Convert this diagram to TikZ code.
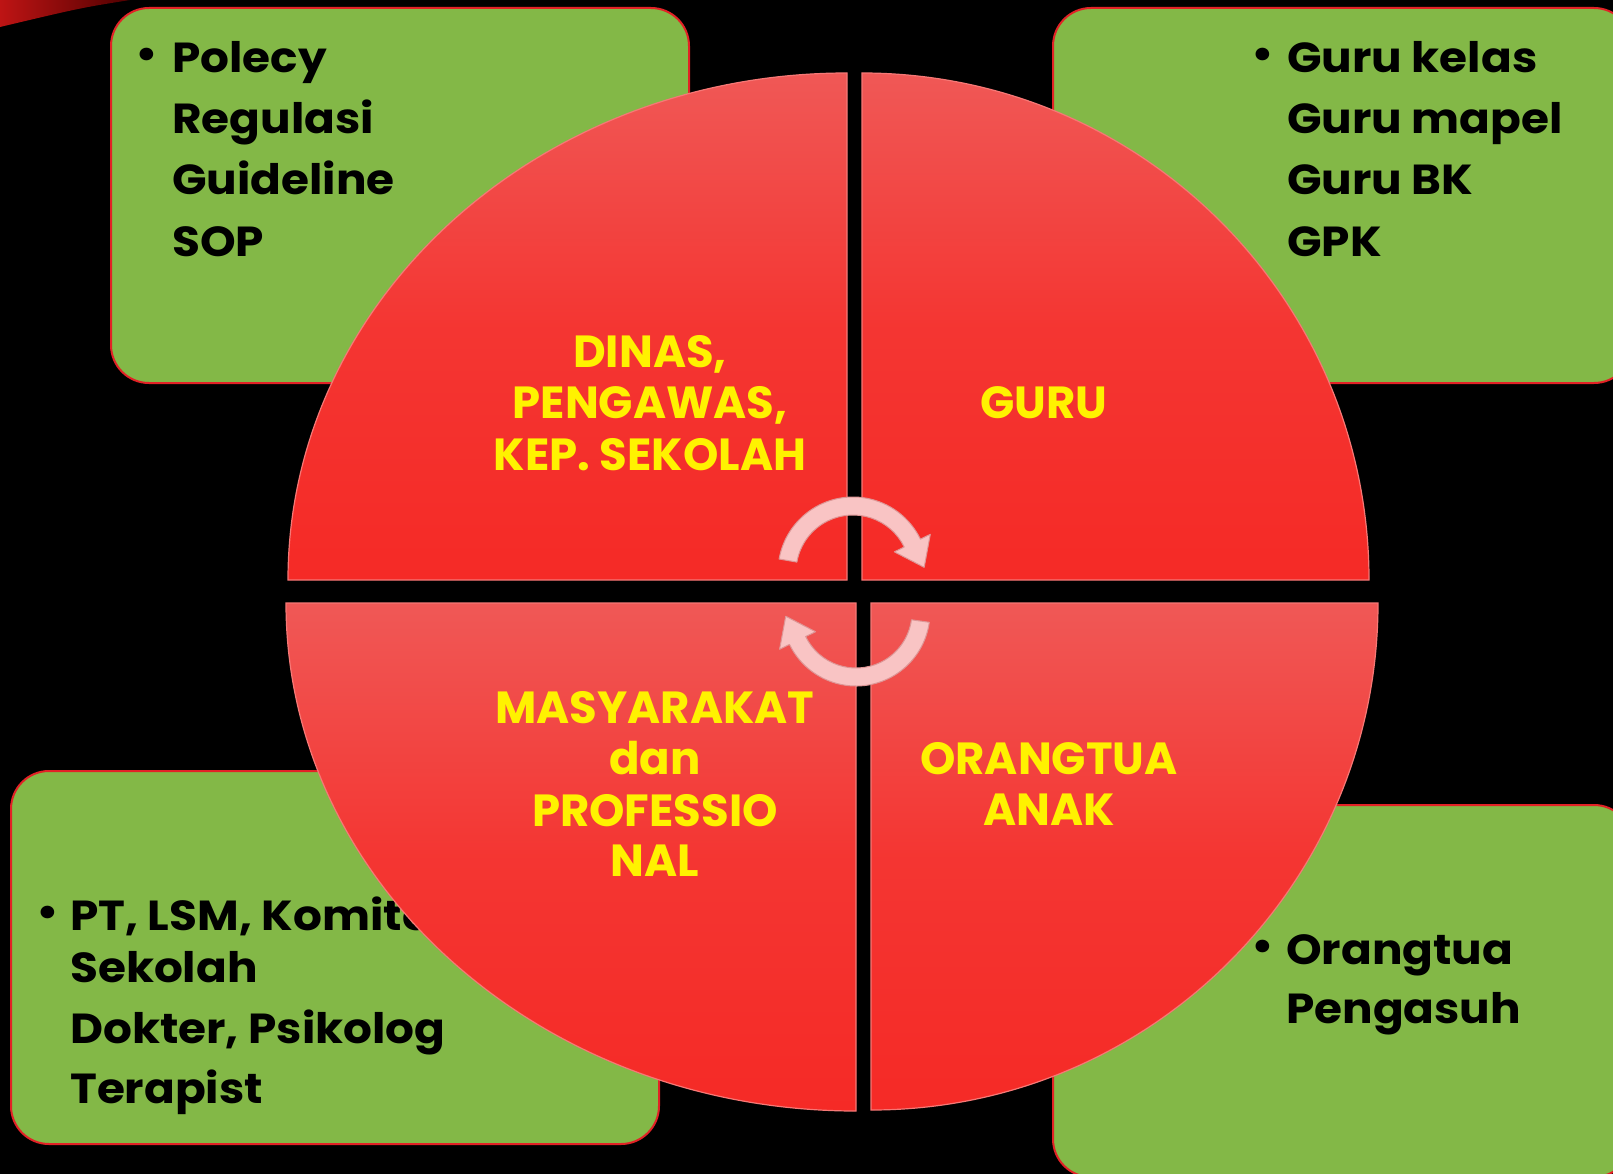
\documentclass[tikz,border=0pt]{standalone}
\usepackage{fontspec}
\setmainfont{Poppins}[FakeStretch=1.08]
\newfontfamily\quadfont{Poppins}
\usetikzlibrary{calc}
\definecolor{boxgreen}{RGB}{131,184,71}
\definecolor{boxline}{RGB}{226,34,38}
\definecolor{qlight}{RGB}{240,88,86}
\definecolor{qred}{RGB}{245,42,38}
\definecolor{qedge}{RGB}{246,120,118}
\definecolor{arrowpink}{RGB}{249,196,196}
\definecolor{arrowedge}{RGB}{222,150,150}
\definecolor{darkred}{RGB}{80,0,0}
\definecolor{streakred}{RGB}{190,20,20}
\begin{document}
\begin{tikzpicture}[x=1pt,y=-1pt,
  greenbox/.style={fill=boxgreen, draw=boxline, line width=2pt, rounded corners=38pt},
  quad/.style={top color=qlight, bottom color=qred, middle color=qred!75!qlight, draw=qedge, line width=1.2pt},
  itemtxt/.style={anchor=base west, inner sep=0pt, font=\fontsize{42}{50}\selectfont\bfseries, text=black},
  bul/.style={anchor=base, inner sep=0pt, font=\fontsize{42}{50}\selectfont\bfseries, text=black},
  qtxt/.style={anchor=base, inner sep=0pt, font=\quadfont\fontsize{45}{51}\selectfont\bfseries, text=yellow},
  arrowstyle/.style={fill=arrowpink, draw=arrowedge, line width=1pt, line join=round}
]
\fill[black] (0,0) rectangle (1613,1174);
\useasboundingbox (0,0) rectangle (1613,1174);
% red streak top-left
\shade[left color=streakred, right color=darkred] (0,0) -- (130,0) .. controls (80,8) .. (0,27) -- cycle;

% green boxes
\draw[greenbox] (111,8) rectangle (689,383);
\draw[greenbox] (1053,8) rectangle (1632,383);
\draw[greenbox] (11,771) rectangle (659,1144);
\draw[greenbox] (1053,805) rectangle (1632,1177);

% top-left list
\node[bul] (b1) at (147,73) {\raisebox{4pt}{•}};
\node[itemtxt] (t11) at (172,73) {Polecy};
\node[itemtxt] (t12) at (172,134) {Regulasi};
\node[itemtxt] (t13) at (172,195) {Guideline};
\node[itemtxt] (t14) at (172,256) {SOP};
% top-right list
\node[bul] (b2) at (1263,73) {\raisebox{4pt}{•}};
\node[itemtxt] (t21) at (1287,73) {Guru kelas};
\node[itemtxt] (t22) at (1287,134) {Guru mapel};
\node[itemtxt] (t23) at (1287,195) {Guru BK};
\node[itemtxt] (t24) at (1287,256) {GPK};
% bottom-left list
\node[bul] (b3) at (48,930) {\raisebox{4pt}{•}};
\node[itemtxt] (t31) at (70,930) {PT, LSM, Komite};
\node[itemtxt] (t32) at (70,982) {Sekolah};
\node[itemtxt] (t33) at (70,1043) {Dokter, Psikolog};
\node[itemtxt] (t34) at (70,1103) {Terapist};
% bottom-right list
\node[bul] (b4) at (1263,964) {\raisebox{4pt}{•}};
\node[itemtxt] (t41) at (1286,964) {Orangtua};
\node[itemtxt] (t42) at (1286,1023) {Pengasuh};

% quadrants
\path[quad] (847,580) -- (288,580) arc[start angle=180, end angle=270, x radius=559, y radius=507] -- cycle;
\path[quad] (862,580) -- (862,73) arc[start angle=270, end angle=360, radius=507] -- cycle;
\path[quad] (856,603) -- (856,1111) arc[start angle=90, end angle=180, x radius=570, y radius=508] -- cycle;
\path[quad] (871,603) -- (1378,603) arc[start angle=0, end angle=90, radius=507] -- cycle;

% quadrant labels
\node[qtxt] (q11) at (650,367) {DINAS,};
\node[qtxt] (q12) at (650,418) {PENGAWAS,};
\node[qtxt] (q13) at (650,470) {KEP. SEKOLAH};
\node[qtxt] (q21) at (1044,418) {GURU};
\node[qtxt] (q31) at (655,723) {MASYARAKAT};
\node[qtxt] (q32) at (655,774) {dan};
\node[qtxt] (q33) at (655,826) {PROFESSIO};
\node[qtxt] (q34) at (655,876) {NAL};
\node[qtxt] (q41) at (1049,774) {ORANGTUA};
\node[qtxt] (q42) at (1049,825) {ANAK};

% circular arrows
\coordinate (c1) at (853,572);
\coordinate (c2) at (856,612);
\filldraw[arrowstyle] ($(c1)+(190:75)$) arc[start angle=190,end angle=334,radius=75]
  -- ($(c1)+(334:86)$) -- ($(c1)+(334:66)+(64:27)$) -- ($(c1)+(334:46)$) -- ($(c1)+(334:57)$)
  arc[start angle=334,end angle=190,radius=57] -- cycle;
\filldraw[arrowstyle] ($(c2)+(8:74)$) arc[start angle=8,end angle=154,radius=74]
  -- ($(c2)+(154:85)$) -- ($(c2)+(154:65)+(244:27)$) -- ($(c2)+(154:45)$) -- ($(c2)+(154:56)$)
  arc[start angle=154,end angle=8,radius=56] -- cycle;
\end{tikzpicture}
\end{document}
